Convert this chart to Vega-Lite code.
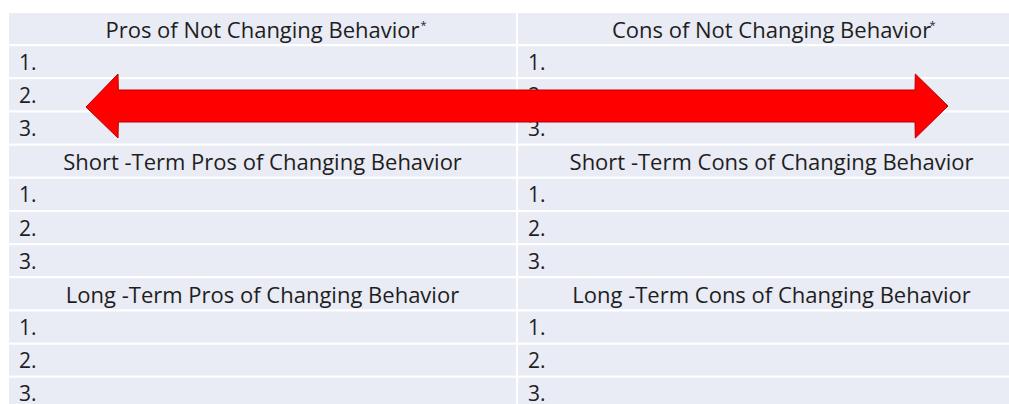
{
  "$schema": "https://vega.github.io/schema/vega-lite/v6.json",
  "width": 1001,
  "height": 392,
  "autosize": {"type": "none"},
  "padding": {"left": 8, "top": 12, "right": 0, "bottom": 0},
  "background": "white",
  "config": {"view": {"stroke": null}, "font": "Open Sans"},
  "datasets": {
    "cells": [
      {"col": "L", "row": 1, "kind": "header", "label": "Pros of Not Changing Behavior"},
      {"col": "L", "row": 2, "kind": "item", "label": "1."},
      {"col": "L", "row": 3, "kind": "item", "label": "2."},
      {"col": "L", "row": 4, "kind": "item", "label": "3."},
      {"col": "L", "row": 5, "kind": "header", "label": "Short  -Term Pros of Changing Behavior"},
      {"col": "L", "row": 6, "kind": "item", "label": "1."},
      {"col": "L", "row": 7, "kind": "item", "label": "2."},
      {"col": "L", "row": 8, "kind": "item", "label": "3."},
      {"col": "L", "row": 9, "kind": "header", "label": "Long -Term Pros of Changing Behavior"},
      {"col": "L", "row": 10, "kind": "item", "label": "1."},
      {"col": "L", "row": 11, "kind": "item", "label": "2."},
      {"col": "L", "row": 12, "kind": "item", "label": "3."},
      {"col": "R", "row": 1, "kind": "header", "label": "Cons of Not Changing Behavior"},
      {"col": "R", "row": 2, "kind": "item", "label": "1."},
      {"col": "R", "row": 3, "kind": "item", "label": "2."},
      {"col": "R", "row": 4, "kind": "item", "label": "3."},
      {"col": "R", "row": 5, "kind": "header", "label": "Short  -Term Cons of Changing Behavior"},
      {"col": "R", "row": 6, "kind": "item", "label": "1."},
      {"col": "R", "row": 7, "kind": "item", "label": "2."},
      {"col": "R", "row": 8, "kind": "item", "label": "3."},
      {"col": "R", "row": 9, "kind": "header", "label": "Long -Term Cons of Changing Behavior"},
      {"col": "R", "row": 10, "kind": "item", "label": "1."},
      {"col": "R", "row": 11, "kind": "item", "label": "2."},
      {"col": "R", "row": 12, "kind": "item", "label": "3."}
    ],
    "arrow": [
      {"px": 86, "top": 107, "bottom": 107},
      {"px": 118, "top": 74, "bottom": 138},
      {"px": 118.3, "top": 90, "bottom": 122},
      {"px": 915, "top": 90, "bottom": 122},
      {"px": 915.3, "top": 74, "bottom": 138},
      {"px": 948, "top": 106, "bottom": 106}
    ]
  },
  "layer": [
    {
      "data": {"name": "cells"},
      "layer": [
        {
          "mark": {"type": "rect", "fill": "#e9ebf5", "stroke": "white", "strokeWidth": 2},
          "encoding": {
            "x": {"field": "col", "type": "nominal", "scale": {"domain": ["L", "R"], "range": [0, 1018], "paddingInner": 0, "paddingOuter": 0}, "axis": null},
            "y": {"field": "row", "type": "ordinal", "scale": {"range": [0, 398], "paddingInner": 0, "paddingOuter": 0}, "axis": null}
          }
        },
        {
          "transform": [{"filter": "datum.kind === 'header'"}],
          "mark": {"type": "text", "align": "center", "baseline": "middle", "fontSize": 22, "dy": 2, "color": "#1e1e1e"},
          "encoding": {
            "x": {"field": "col", "type": "nominal", "axis": null},
            "y": {"field": "row", "type": "ordinal", "axis": null},
            "text": {"field": "label"}
          }
        },
        {
          "transform": [{"filter": "datum.row === 1"}],
          "mark": {"type": "text", "align": "left", "baseline": "middle", "fontSize": 11, "dx": 158, "dy": -3, "color": "#1e1e1e", "text": "*"},
          "encoding": {
            "x": {"field": "col", "type": "nominal", "axis": null},
            "y": {"field": "row", "type": "ordinal", "axis": null}
          }
        },
        {
          "transform": [{"filter": "datum.kind === 'item'"}],
          "mark": {"type": "text", "align": "left", "baseline": "middle", "fontSize": 21, "dx": 11, "dy": 2, "color": "#1e1e1e"},
          "encoding": {
            "x": {"field": "col", "type": "nominal", "bandPosition": 0, "axis": null},
            "y": {"field": "row", "type": "ordinal", "axis": null},
            "text": {"field": "label"}
          }
        }
      ]
    },
    {
      "data": {"name": "arrow"},
      "mark": {"type": "area", "color": "#ff0000", "stroke": "#b80000", "strokeWidth": 1, "interpolate": "linear"},
      "encoding": {
        "x": {"field": "px", "type": "quantitative", "scale": {"domain": [8, 1009], "zero": false, "nice": false}, "axis": null},
        "y": {"field": "top", "type": "quantitative", "scale": {"domain": [12, 404], "zero": false, "nice": false, "reverse": true}, "axis": null},
        "y2": {"field": "bottom"}
      }
    }
  ],
  "resolve": {"scale": {"x": "independent", "y": "independent"}}
}
